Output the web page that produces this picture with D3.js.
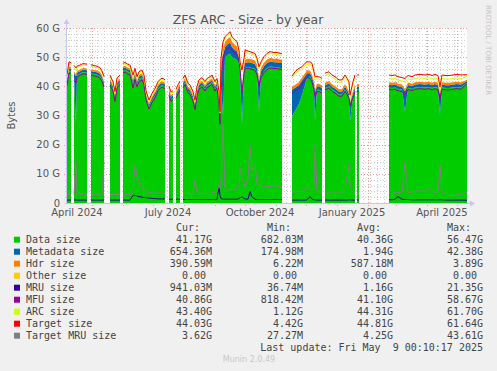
<!DOCTYPE html>
<html>
<head>
<meta charset="utf-8">
<script src="https://cdn.jsdelivr.net/npm/d3@7"></script>
<style>
  body { margin: 0; background: #f0f0f0; }
  svg { display: block; }
  text { font-family: "DejaVu Sans", sans-serif; }
  .mono { font-family: "DejaVu Sans Mono", monospace; }
</style>
</head>
<body>
<script>
// sample days, counted from 2024-04-06 (left edge of the plot); null rows are gaps
var sampleDay = [
  0, 2, 4, 5,
  7, 9, 10, 13, 16, 20, 22,
  24, 27, 30, 33, 35, 37, 39,
  43, 46, 48, 50, 53, 54,
  56, 58, 61, 63, 66, 68, 70, 72, 75, 77, 79, 82, 85, 88, 91, 94, 96, 98, 100,
  102, 104, 106, 108,
  109, 111, 113, 114,
  116, 118, 121, 123, 126, 128, 130, 132, 135, 138, 140, 143, 145, 148, 150,
  152, 153, 154, 156, 158, 161, 163, 165, 168, 170, 172, 173, 175,
  177, 178, 181, 183, 185, 188, 190, 192, 194, 197, 200, 203, 207, 210, 213, 215, 220,
  225, 228, 232, 235, 238, 240, 243, 245, 247, 248, 250, 252, 255, 257,
  258, 262, 265, 268, 272, 275, 278, 280, 282, 283, 286, 288, 289,
  290, 292, 300,
  322, 325, 328, 331, 335, 338, 341, 345, 348, 353, 358, 362, 365, 368, 371, 373, 375, 379, 382, 386, 390, 394, 400
];

// values in G
var dataSize = [
  41.0, 45.4, 45.2, null,
  43.5, 27.0, 43.8, 44.4, 44.9, 44.7, null,
  44.5, 44.2, 44.0, 43.5, 42.4, 40.5, null,
  41.2, 39.1, 35.6, 40.2, 41.3, null,
  45.4, 45.7, 45.0, 44.8, 40.8, 43.5, 40.7, 42.5, 43.1, 41.4, 36.0, 32.9, 35.2, 36.8, 39.2, 40.3, 40.3, 39.8, null,
  37.6, 35.6, 36.1, null,
  36.6, 38.1, 39.4, null,
  40.2, 41.4, 38.5, 38.0, 35.7, 32.8, 37.4, 39.7, 40.5, 39.1, 40.2, 40.8, 41.4, 39.1, 40.2,
  35.0, 28.0, 40.0, 30.0, 50.0, 50.8, 51.2, 50.0, 49.5, 49.0, 47.5, 45.0, 27.0,
  45.0, 46.5, 46.6, 46.5, 46.3, 46.0, 44.5, 31.5, 43.5, 45.2, 46.3, 46.8, 46.6, 46.6, 46.3, 46.3, null,
  29.8, 31.5, 34.0, 37.0, 40.5, 43.0, 43.3, 42.0, 39.6, 28.0, 38.8, 38.8, 38.2, null,
  39.4, 40.0, 38.9, 38.3, 37.2, 37.2, 38.9, 37.8, 36.5, 28.0, 36.6, 38.9, null,
  38.9, 38.9, null,
  39.6, 39.4, 39.6, 39.1, 38.8, 31.3, 39.5, 39.1, 39.6, 39.8, 39.6, 39.8, 39.4, 39.8, 39.4, 30.2, 39.6, 39.4, 39.4, 39.6, 39.8, 39.6, 41.2
];

var metaSize = [
  0.8, 0.8, 0.8, null,
  1.0, 16.5, 0.9, 0.8, 0.8, 0.8, null,
  0.8, 0.8, 0.8, 0.8, 0.8, 0.8, null,
  0.8, 0.8, 0.8, 0.8, 0.8, null,
  0.8, 0.8, 0.8, 0.8, 1.0, 0.8, 0.8, 0.8, 0.8, 0.8, 0.8, 0.8, 0.8, 0.8, 0.8, 0.8, 0.8, 0.8, null,
  0.8, 0.8, 0.8, null,
  0.8, 0.8, 0.8, null,
  0.8, 0.8, 0.8, 0.8, 0.8, 0.8, 0.8, 0.8, 0.8, 0.8, 0.8, 0.8, 0.8, 0.8, 0.8,
  1.0, 1.0, 5.0, 20.5, 3.5, 3.8, 3.8, 3.5, 3.0, 3.0, 2.0, 1.8, 11.0,
  1.5, 1.5, 1.7, 1.7, 1.7, 1.7, 1.7, 10.0, 1.7, 1.7, 1.7, 1.7, 1.7, 1.7, 1.7, 1.7, null,
  9.0, 8.0, 6.5, 5.0, 3.0, 1.5, 1.2, 1.2, 1.2, 10.0, 1.2, 1.2, 1.2, null,
  1.0, 1.0, 1.0, 1.0, 1.0, 1.0, 1.0, 1.0, 1.0, 6.0, 1.0, 1.0, null,
  1.0, 1.0, null,
  1.0, 1.0, 1.0, 1.0, 1.0, 7.0, 1.0, 1.0, 1.0, 1.0, 1.0, 1.0, 1.0, 1.0, 1.0, 7.0, 1.0, 1.0, 1.0, 1.0, 1.0, 1.0, 0.65
];

var hdrSize = [
  0.6, 0.6, 0.6, null,
  0.6, 0.6, 0.6, 0.6, 0.6, 0.6, null,
  0.6, 0.6, 0.6, 0.6, 0.6, 0.6, null,
  0.6, 0.6, 0.6, 0.6, 0.6, null,
  0.6, 0.6, 0.6, 0.6, 0.6, 0.6, 0.6, 0.6, 0.6, 0.6, 0.6, 0.6, 0.6, 0.6, 0.6, 0.6, 0.6, 0.6, null,
  0.6, 0.6, 0.6, null,
  0.6, 0.6, 0.6, null,
  0.6, 0.6, 0.6, 0.6, 0.6, 0.6, 0.6, 0.6, 0.6, 0.6, 0.6, 0.6, 0.6, 0.6, 0.6,
  0.6, 0.7, 1.5, 2.0, 1.8, 1.8, 1.8, 1.8, 1.7, 1.6, 1.4, 1.2, 1.0,
  1.0, 1.1, 1.2, 1.2, 1.2, 1.2, 1.2, 1.2, 1.2, 1.2, 1.2, 1.2, 1.2, 1.2, 1.2, 1.2, null,
  1.0, 1.0, 1.0, 1.0, 1.0, 0.9, 0.9, 0.9, 0.9, 0.9, 0.9, 0.9, 0.9, null,
  0.8, 0.8, 0.8, 0.8, 0.8, 0.8, 0.8, 0.8, 0.8, 0.8, 0.8, 0.8, null,
  0.8, 0.8, null,
  0.8, 0.8, 0.8, 0.8, 0.8, 0.8, 0.8, 0.8, 0.8, 0.8, 0.8, 0.8, 0.8, 0.8, 0.8, 0.8, 0.8, 0.8, 0.8, 0.8, 0.8, 0.8, 0.4
];

var mruSize = [
  1.0, 1.0, 1.0, null,
  1.0, 1.1, 1.0, 1.0, 1.0, 1.0, null,
  1.0, 1.0, 1.0, 1.0, 1.0, 1.0, null,
  1.0, 1.0, 1.0, 1.0, 1.0, null,
  1.0, 1.0, 1.0, 1.0, 2.6, 2.6, 2.4, 2.2, 2.0, 1.9, 1.8, 1.7, 1.6, 1.5, 1.4, 1.4, 1.4, 1.4, null,
  1.3, 1.3, 1.3, null,
  1.3, 1.3, 1.3, null,
  1.2, 1.2, 1.2, 1.2, 1.2, 1.2, 1.2, 1.2, 1.2, 1.2, 1.2, 1.2, 1.2, 1.2, 1.2,
  5.7, 2.5, 1.5, 1.3, 1.3, 1.3, 1.3, 1.3, 1.3, 1.3, 1.5, 1.8, 2.1,
  1.6, 1.4, 1.3, 4.0, 2.0, 1.3, 1.2, 1.2, 1.2, 1.2, 1.2, 1.2, 1.2, 1.2, 1.2, 1.2, null,
  1.0, 1.0, 1.0, 1.0, 1.0, 1.1, 2.2, 1.3, 1.1, 1.1, 1.0, 1.0, 1.0, null,
  1.0, 1.0, 1.0, 1.0, 1.0, 1.0, 1.0, 1.0, 1.1, 1.1, 1.0, 1.0, null,
  1.0, 1.0, null,
  1.1, 1.1, 1.3, 2.2, 1.3, 1.2, 1.2, 1.1, 1.1, 1.1, 1.1, 1.1, 1.1, 1.1, 1.1, 1.1, 1.1, 1.0, 1.0, 1.0, 1.0, 1.0, 0.94
];

var mfuSize = [
  40.3, 44.6, 44.5, null,
  42.0, 41.2, 43.2, 43.8, 44.3, 44.1, null,
  43.9, 43.6, 43.4, 42.8, 41.7, 39.8, null,
  40.5, 38.3, 34.8, 39.5, 40.6, null,
  44.6, 44.9, 44.2, 44.0, 39.5, 42.4, 39.8, 41.6, 42.2, 40.6, 35.3, 32.2, 34.5, 36.1, 38.5, 39.6, 39.6, 39.1, null,
  36.9, 34.9, 35.4, null,
  35.9, 37.4, 38.7, null,
  39.5, 40.7, 37.8, 37.3, 35.0, 32.0, 36.7, 39.0, 39.8, 38.4, 39.5, 40.1, 40.7, 38.4, 39.5,
  34.0, 27.0, 43.0, 50.0, 52.0, 53.0, 53.5, 52.3, 51.5, 51.0, 49.0, 46.0, 38.0,
  44.5, 46.0, 46.2, 46.0, 45.8, 45.5, 44.0, 40.0, 43.0, 44.7, 45.8, 46.3, 46.1, 46.1, 45.8, 45.8, null,
  37.5, 38.5, 39.2, 40.5, 42.2, 43.0, 42.8, 41.5, 39.0, 36.5, 38.2, 38.2, 37.6, null,
  38.8, 39.4, 38.3, 37.7, 36.6, 36.6, 38.3, 37.2, 35.9, 33.5, 36.0, 38.3, null,
  38.3, 38.3, null,
  39.0, 38.8, 39.0, 38.5, 38.2, 37.0, 38.9, 38.5, 39.0, 39.2, 39.0, 39.2, 38.8, 39.2, 38.8, 35.5, 39.0, 38.8, 38.8, 39.0, 39.2, 39.0, 40.9
];

var arcSize = [
  43.4, 47.8, 47.6, null,
  46.5, 45.5, 46.3, 46.8, 47.3, 47.1, null,
  46.9, 46.6, 46.4, 45.9, 44.8, 42.9, null,
  43.2, 41.1, 37.6, 42.4, 43.3, null,
  47.4, 47.7, 47.0, 46.8, 43.3, 45.6, 42.8, 44.5, 45.1, 43.4, 38.0, 34.8, 37.1, 38.8, 41.1, 42.2, 42.2, 41.7, null,
  39.5, 37.5, 38.0, null,
  38.5, 40.0, 41.3, null,
  42.2, 43.4, 40.5, 40.0, 37.7, 34.8, 39.4, 41.7, 42.5, 41.1, 42.2, 42.8, 43.4, 41.1, 42.2,
  37.6, 30.8, 49.0, 54.7, 56.4, 57.5, 58.1, 56.4, 55.3, 54.7, 51.8, 48.0, 45.0,
  49.0, 51.8, 51.5, 51.3, 51.0, 50.7, 49.0, 46.0, 47.8, 49.6, 50.7, 51.3, 51.0, 51.0, 50.7, 50.7, null,
  42.7, 44.2, 45.5, 46.0, 47.1, 47.6, 47.6, 47.1, 44.2, 42.5, 42.5, 42.5, 41.9, null,
  43.6, 44.2, 43.1, 42.5, 41.4, 41.4, 43.1, 42.0, 40.7, 36.2, 40.8, 43.1, null,
  43.1, 43.1, null,
  42.7, 42.5, 42.7, 42.2, 41.8, 41.5, 42.6, 42.2, 42.7, 42.9, 42.7, 42.9, 42.5, 42.9, 42.5, 38.9, 42.7, 42.5, 42.5, 42.7, 42.9, 42.7, 43.4
];

var targetSize = [
  44.0, 48.4, 48.1, null,
  47.2, 46.3, 46.9, 47.3, 47.8, 47.6, null,
  47.4, 47.1, 46.9, 46.4, 45.3, 43.4, null,
  43.8, 41.6, 38.2, 42.9, 43.9, null,
  47.9, 48.2, 47.5, 47.3, 43.9, 46.2, 43.3, 45.0, 45.6, 43.9, 38.5, 35.3, 37.6, 39.3, 41.6, 42.7, 42.7, 42.2, null,
  40.0, 38.0, 38.5, null,
  39.0, 40.5, 41.8, null,
  42.7, 43.9, 41.0, 40.5, 38.2, 35.3, 39.9, 42.2, 43.0, 41.6, 42.7, 43.3, 43.9, 41.6, 42.7,
  38.2, 31.3, 49.6, 55.3, 57.0, 58.1, 58.7, 57.0, 55.9, 55.3, 52.4, 48.4, 45.6,
  49.6, 52.4, 52.1, 51.9, 51.6, 51.3, 49.6, 46.7, 48.4, 50.2, 51.3, 51.9, 51.6, 51.6, 51.3, 51.3, null,
  43.5, 45.0, 46.2, 46.7, 47.9, 48.4, 48.4, 47.9, 45.0, 43.3, 43.3, 43.3, 42.7, null,
  44.5, 45.0, 43.9, 43.3, 42.2, 42.2, 43.9, 42.8, 41.5, 37.0, 41.6, 43.9, null,
  43.9, 43.9, null,
  43.9, 43.7, 43.9, 43.3, 43.0, 42.7, 43.7, 43.3, 43.9, 44.1, 43.9, 44.1, 43.7, 44.1, 43.7, 39.9, 43.9, 43.7, 43.7, 43.9, 44.1, 43.9, 44.0
];

var targetMruSize = [
  2.8, 2.9, 2.9, null,
  3.0, 14.2, 3.0, 3.0, 3.0, 3.0, null,
  3.0, 3.0, 3.0, 3.0, 3.0, 14.2, null,
  2.9, 2.9, 2.9, 2.9, 2.9, null,
  2.9, 2.9, 2.9, 2.9, 3.5, 13.1, 9.5, 7.4, 5.1, 4.5, 4.0, 3.5, 3.4, 3.4, 3.4, 3.4, 3.4, 3.4, null,
  3.3, 3.3, 3.3, null,
  3.3, 3.3, 3.3, null,
  3.2, 3.2, 3.2, 3.2, 3.5, 8.0, 4.0, 3.3, 3.3, 3.3, 3.3, 3.3, 3.5, 3.5, 4.0,
  6.0, 5.0, 8.0, 27.0, 5.0, 4.5, 4.5, 4.5, 5.0, 5.0, 5.5, 11.9, 8.0,
  7.0, 5.5, 8.0, 19.9, 11.0, 13.1, 7.0, 6.0, 6.0, 5.5, 5.8, 5.5, 6.0, 5.8, 5.7, 5.7, null,
  3.8, 3.8, 4.0, 4.0, 4.5, 5.0, 4.5, 4.5, 5.0, 19.9, 4.0, 3.8, 3.8, null,
  3.4, 3.4, 3.4, 3.4, 3.4, 3.6, 5.0, 8.5, 13.1, 6.0, 3.6, 3.4, null,
  3.4, 3.4, null,
  5.1, 4.0, 3.5, 3.5, 3.8, 14.2, 3.5, 3.8, 4.0, 4.5, 3.8, 5.5, 4.0, 3.6, 3.8, 13.1, 4.0, 2.6, 2.5, 2.5, 2.8, 3.0, 3.62
];

var yTicks = [0, 10, 20, 30, 40, 50, 60];

var legendNames = ["Data size", "Metadata size", "Hdr size", "Other size", "MRU size",
                   "MFU size", "ARC size", "Target size", "Target MRU size"];
var legendColors = ["#00cc00", "#0066b3", "#ff8000", "#ffcc00", "#330099",
                    "#990099", "#ccff00", "#ff0000", "#808080"];
var curVals = ["41.17G", "654.36M", "390.59M", "0.00 ", "941.03M", "40.86G", "43.40G", "44.03G", "3.62G"];
var minVals = ["682.03M", "174.98M", "6.22M", "0.00 ", "36.74M", "818.42M", "1.12G", "4.42G", "27.27M"];
var avgVals = ["40.36G", "1.94G", "587.18M", "0.00 ", "1.16G", "41.10G", "44.31G", "44.81G", "4.25G"];
var maxVals = ["56.47G", "42.38G", "3.89G", "0.00 ", "21.35G", "58.67G", "61.70G", "61.64G", "43.61G"];

var W = 497, H = 371;
var pLeft = 67, pRight = 467, pTop = 28, pBottom = 203;

var startDay = new Date(Date.UTC(2024, 3, 6));
var endDay = new Date(Date.UTC(2025, 4, 11));
var dayDate = function(d) { return d3.utcDay.offset(startDay, d); };

var x = d3.scaleUtc().domain([startDay, endDay]).range([pLeft, pRight]);
var y = d3.scaleLinear().domain([0, 60]).range([pBottom, pTop]);

var svg = d3.select("body").append("svg")
    .attr("width", W)
    .attr("height", H);

svg.append("rect").attr("width", W).attr("height", H).attr("fill", "#f0f0f0");
svg.append("rect")
    .attr("x", pLeft).attr("y", pTop)
    .attr("width", pRight - pLeft).attr("height", pBottom - pTop)
    .attr("fill", "#ffffff");

// title
svg.append("text")
    .attr("x", 248).attr("y", 24)
    .attr("text-anchor", "middle")
    .attr("font-size", "12.5px")
    .attr("fill", "#555")
    .text("ZFS ARC - Size - by year");

// vertical credit
svg.append("text")
    .attr("transform", "translate(486,5) rotate(90)")
    .attr("font-size", "7px")
    .attr("fill", "#c4c4c4")
    .text("RRDTOOL / TOBI OETIKER");

// grid
var grid = svg.append("g");
var minorY = d3.range(2, 60, 2).filter(function(v) { return v % 10 != 0; });
grid.selectAll(".gy").data(minorY).enter().append("line")
    .attr("x1", pLeft - 2).attr("x2", pRight)
    .attr("y1", function(d) { return Math.round(y(d)) + 0.5; })
    .attr("y2", function(d) { return Math.round(y(d)) + 0.5; })
    .attr("stroke", "#cfcfcf").attr("stroke-dasharray", "1,2");
var weeks = d3.utcMonday.range(startDay, endDay);
grid.selectAll(".gx").data(weeks).enter().append("line")
    .attr("x1", function(d) { return Math.round(x(d)) + 0.5; })
    .attr("x2", function(d) { return Math.round(x(d)) + 0.5; })
    .attr("y1", pTop).attr("y2", pBottom + 2)
    .attr("stroke", "#cfcfcf").attr("stroke-dasharray", "1,2");
grid.selectAll(".my").data(yTicks.slice(1)).enter().append("line")
    .attr("x1", pLeft - 3).attr("x2", pRight)
    .attr("y1", function(d) { return Math.round(y(d)) + 0.5; })
    .attr("y2", function(d) { return Math.round(y(d)) + 0.5; })
    .attr("stroke", "#ef9a9a").attr("stroke-dasharray", "1,2");
var months = d3.utcMonth.range(startDay, endDay);
grid.selectAll(".mx").data(months).enter().append("line")
    .attr("x1", function(d) { return Math.round(x(d)) + 0.5; })
    .attr("x2", function(d) { return Math.round(x(d)) + 0.5; })
    .attr("y1", pTop).attr("y2", pBottom + 3)
    .attr("stroke", "#ef9a9a").attr("stroke-dasharray", "1,2");

// data
var rows = sampleDay.map(function(d, i) {
  return { day: d, dataSize: dataSize[i], metaSize: metaSize[i], hdrSize: hdrSize[i] };
});
var stack = d3.stack()
    .keys(["dataSize", "metaSize", "hdrSize"])
    .value(function(r, k) { return r[k] == null ? 0 : r[k]; });
var layers = stack(rows);

var area = d3.area()
    .defined(function(p) { return p.data.dataSize != null; })
    .x(function(p) { return x(dayDate(p.data.day)); })
    .y0(function(p) { return y(p[0]); })
    .y1(function(p) { return y(p[1]); });

var plot = svg.append("g");
plot.selectAll(".layer").data(layers).enter().append("path")
    .attr("d", area)
    .attr("fill", function(l, i) { return legendColors[i]; });

var line = d3.line()
    .defined(function(v) { return v != null; })
    .x(function(v, i) { return x(dayDate(sampleDay[i])); })
    .y(function(v) { return y(v); });

var lineSeries = [
  [mruSize, legendColors[4]],
  [mfuSize, legendColors[5]],
  [arcSize, legendColors[6]],
  [targetSize, legendColors[7]],
  [targetMruSize, legendColors[8]]
];
lineSeries.forEach(function(s) {
  plot.append("path")
      .attr("d", line(s[0]))
      .attr("fill", "none")
      .attr("stroke", s[1])
      .attr("stroke-width", 1);
});

// axes
var axisCol = "#c4c8f2";
svg.append("line").attr("x1", pLeft - 0.5).attr("x2", pLeft - 0.5)
    .attr("y1", pBottom + 1).attr("y2", pTop - 6)
    .attr("stroke", axisCol);
svg.append("path").attr("d", "M" + (pLeft - 3.5) + "," + (pTop - 4) + "L" + (pLeft - 0.5) + "," + (pTop - 9) + "L" + (pLeft + 2.5) + "," + (pTop - 4) + "Z")
    .attr("fill", axisCol);
svg.append("line").attr("x1", pLeft - 2).attr("x2", pRight + 5)
    .attr("y1", pBottom + 0.5).attr("y2", pBottom + 0.5)
    .attr("stroke", axisCol);
svg.append("path").attr("d", "M" + (pRight + 3) + "," + (pBottom - 2.5) + "L" + (pRight + 8) + "," + (pBottom + 0.5) + "L" + (pRight + 3) + "," + (pBottom + 3.5) + "Z")
    .attr("fill", axisCol);

// y labels
svg.selectAll(".yl").data(yTicks).enter().append("text")
    .attr("x", 60)
    .attr("y", function(d) { return y(d); })
    .attr("dy", "0.35em")
    .attr("text-anchor", "end")
    .attr("font-size", "10px")
    .attr("fill", "#555")
    .text(function(d) { return d == 0 ? "0" : d + " G"; });

svg.append("text")
    .attr("transform", "translate(15," + ((pTop + pBottom) / 2) + ") rotate(-90)")
    .attr("text-anchor", "middle")
    .attr("font-size", "10px")
    .attr("fill", "#555")
    .text("Bytes");

// x labels: every 3 months, centred half a month after the tick
var labelMonths = d3.utcMonth.every(3).range(d3.utcMonth.floor(startDay), endDay);
var fmt = d3.utcFormat("%B %Y");
svg.selectAll(".xl").data(labelMonths).enter().append("text")
    .attr("x", function(d) { return x(d3.utcDay.offset(d, 15)); })
    .attr("y", 216)
    .attr("text-anchor", "middle")
    .attr("font-size", "10px")
    .attr("fill", "#555")
    .text(function(d) { return fmt(d); });

// legend
var colEnds = [212, 303, 393, 483];
var heads = ["Cur:", "Min:", "Avg:", "Max:"];
var lg = svg.append("g").attr("font-size", "10px").attr("fill", "#444");
heads.forEach(function(h, j) {
  lg.append("text")
      .attr("class", "mono")
      .attr("x", colEnds[j] - 12).attr("y", 227.5)
      .attr("dy", "0.35em")
      .attr("text-anchor", "end")
      .text(h);
});
var cols = [curVals, minVals, avgVals, maxVals];
legendNames.forEach(function(name, i) {
  var cy = 239.7 + i * 12;
  lg.append("rect")
      .attr("x", 14).attr("y", cy - 3)
      .attr("width", 6).attr("height", 6)
      .attr("fill", legendColors[i]);
  lg.append("text")
      .attr("class", "mono")
      .attr("x", 26).attr("y", cy)
      .attr("dy", "0.35em")
      .text(name);
  cols.forEach(function(c, j) {
    lg.append("text")
        .attr("class", "mono")
        .attr("x", colEnds[j]).attr("y", cy)
        .attr("dy", "0.35em")
        .attr("text-anchor", "end")
        .style("white-space", "pre")
        .text(c[i]);
  });
});
lg.append("text")
    .attr("class", "mono")
    .attr("x", 483).attr("y", 347.7)
    .attr("dy", "0.35em")
    .attr("text-anchor", "end")
    .style("white-space", "pre")
    .text("Last update: Fri May  9 00:10:17 2025");

svg.append("text")
    .attr("x", 249).attr("y", 359.5)
    .attr("dy", "0.35em")
    .attr("text-anchor", "middle")
    .attr("font-size", "8px")
    .attr("fill", "#c8c8c8")
    .text("Munin 2.0.49");
</script>
</body>
</html>
